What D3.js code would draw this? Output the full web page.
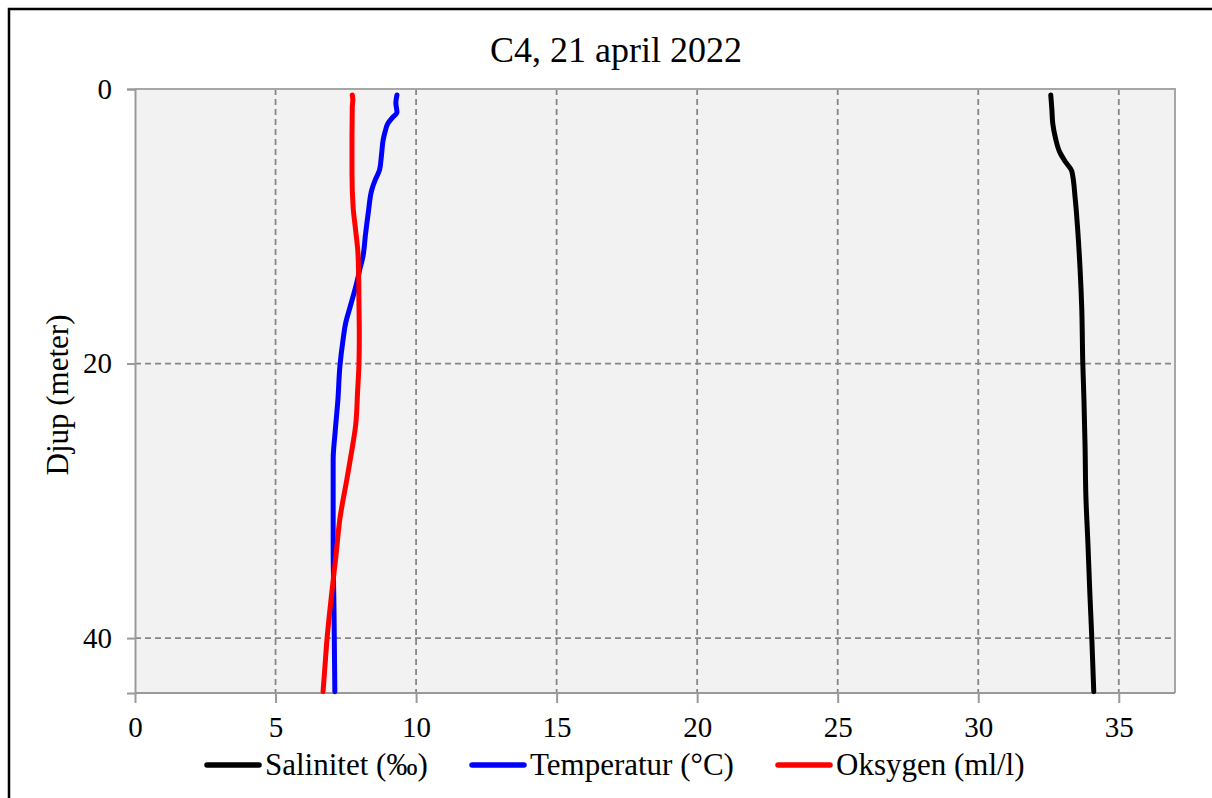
<!DOCTYPE html>
<html><head><meta charset="utf-8">
<script src="https://cdn.jsdelivr.net/npm/d3@7"></script>
<style>body{margin:0;background:#fff;}text{font-family:"Liberation Serif","Times New Roman",serif;}</style>
</head><body><svg id="c" width="1212" height="798"></svg>
<script>
const title = "C4, 21 april 2022";
const yLabel = "Djup (meter)";
const xTicks = [0,5,10,15,20,25,30,35];
const yTicks = [0,20,40];
const seriesNames = ["Salinitet (‰)","Temperatur (°C)","Oksygen (ml/l)"];
const seriesColors = ["#000000","#0000ff","#ff0000"];
// [value, depth]
const salinity = [[32.58,0.44],[32.62,1.5],[32.65,2.5],[32.75,3.6],[32.9,4.6],[33.1,5.3],[33.33,6.0],[33.45,8.0],[33.54,10.3],[33.62,13.0],[33.68,15.8],[33.72,20.0],[33.76,22.6],[33.8,26.0],[33.83,29.7],[33.9,33.0],[33.97,36.7],[34.04,40.0],[34.11,43.9]];
const temperature = [[9.32,0.44],[9.28,1.0],[9.32,1.7],[9.15,2.1],[9.0,2.5],[8.9,3.1],[8.83,3.7],[8.77,4.8],[8.7,5.9],[8.55,6.6],[8.43,7.3],[8.3,9.0],[8.2,10.6],[8.11,12.2],[7.98,13.3],[7.89,14.1],[7.65,15.9],[7.5,17.0],[7.4,18.3],[7.29,20.2],[7.22,22.6],[7.12,25.0],[7.05,27.0],[7.05,30.0],[7.05,33.3],[7.08,38.0],[7.11,43.9]];
const oxygen = [[7.73,0.44],[7.75,0.8],[7.73,1.3],[7.72,3.5],[7.72,6.1],[7.76,8.6],[7.85,10.3],[7.93,11.9],[7.96,14.0],[7.97,15.9],[7.98,18.0],[7.97,19.9],[7.92,22.0],[7.85,24.5],[7.7,26.5],[7.54,28.4],[7.29,31.3],[7.15,34.0],[7.0,36.7],[6.83,40.1],[6.76,42.0],[6.69,43.9]];
const allSeries = [salinity, temperature, oxygen];

const svg = d3.select("#c");
const L=135,R=1175,T=89,B=693;
const x = d3.scaleLinear().domain([0,37]).range([L,R]);
const y = d3.scaleLinear().domain([0,44]).range([T,B]);

// outer border
svg.append("rect").attr("x",9).attr("y",9).attr("width",1230).attr("height",820)
  .attr("fill","none").attr("stroke","#000").attr("stroke-width",2.5);

svg.append("rect").attr("x",L).attr("y",T).attr("width",R-L).attr("height",B-T).attr("fill","#f2f2f2");

// grid
svg.append("g").selectAll("line").data(xTicks.filter(d=>d>0)).join("line")
  .attr("x1",d=>x(d)).attr("x2",d=>x(d)).attr("y1",T).attr("y2",B)
  .attr("stroke","#868686").attr("stroke-width",1.8).attr("stroke-dasharray","6,4");
svg.append("g").selectAll("line").data(yTicks.filter(d=>d>0)).join("line")
  .attr("x1",L).attr("x2",R).attr("y1",d=>y(d)).attr("y2",d=>y(d))
  .attr("stroke","#868686").attr("stroke-width",1.8).attr("stroke-dasharray","6,4");

// frame top/right
svg.append("path").attr("d",`M${L},${T}H${R}V${B}`).attr("fill","none").attr("stroke","#a6a6a6").attr("stroke-width",2);

// axes
const xAxis = svg.append("g").attr("transform",`translate(0,${B})`)
  .call(d3.axisBottom(x).tickValues(xTicks).tickSize(10).tickPadding(13));
const yAxis = svg.append("g").attr("transform",`translate(${L},0)`)
  .call(d3.axisLeft(y).tickValues(yTicks).tickSize(8).tickPadding(15));
[xAxis,yAxis].forEach(a=>{
  a.select(".domain").attr("stroke","#999").attr("stroke-width",2);
  a.selectAll(".tick line").attr("stroke","#999").attr("stroke-width",2);
  a.selectAll(".tick text").attr("font-size",29).attr("fill","#000").attr("font-family","Liberation Serif");
});
xAxis.select(".domain").attr("d",`M${L},0H${R}`);

// lines
const line = d3.line().x(d=>x(d[0])).y(d=>y(d[1])).curve(d3.curveMonotoneY);
allSeries.forEach((s,i)=>{
  svg.append("path").datum(s).attr("d",line).attr("fill","none")
    .attr("stroke",seriesColors[i]).attr("stroke-width",5)
    .attr("stroke-linecap","round").attr("stroke-linejoin","round");
});

// title
svg.append("text").attr("x",616).attr("y",62).attr("text-anchor","middle")
  .attr("font-size",36).text(title);
// y label
svg.append("text").attr("transform","translate(68,395) rotate(-90)").attr("text-anchor","middle")
  .attr("font-size",31).text(yLabel);

// legend
const legX = [205,470,776];
const lg = svg.append("g").selectAll("g").data(seriesNames).join("g")
  .attr("transform",(d,i)=>`translate(${legX[i]},765)`);
lg.append("line").attr("x1",2).attr("x2",54).attr("y1",0).attr("y2",0)
  .attr("stroke",(d,i)=>seriesColors[i]).attr("stroke-width",5.5).attr("stroke-linecap","round");
lg.append("text").attr("x",60).attr("y",10).attr("font-size",31).text(d=>d);
</script></body></html>
